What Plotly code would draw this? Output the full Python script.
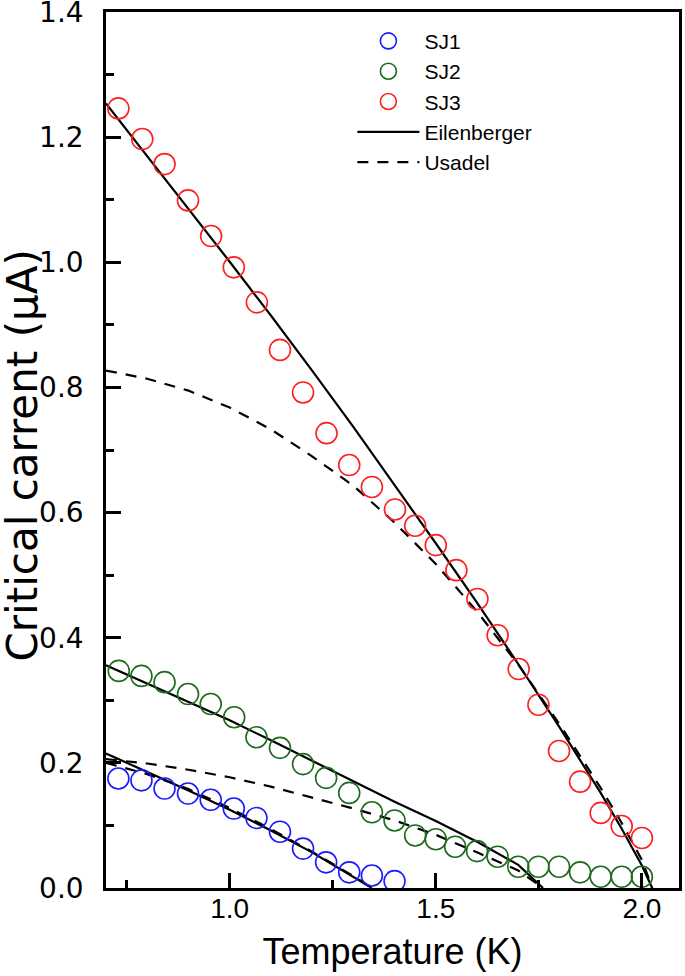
import plotly.graph_objects as go

# measured points (temperature in K, critical current in uA)
sj1_t = [0.73, 0.786, 0.842, 0.899, 0.954, 1.01, 1.065, 1.122, 1.178, 1.234, 1.29, 1.345, 1.40]
sj1_ic = [0.175, 0.172, 0.159, 0.151, 0.141, 0.127, 0.112, 0.090, 0.063, 0.041, 0.025, 0.020, 0.011]

sj2_t = [0.731, 0.786, 0.842, 0.899, 0.954, 1.011, 1.065, 1.122, 1.178, 1.234, 1.29, 1.345,
         1.40, 1.45, 1.50, 1.547, 1.60, 1.65, 1.70, 1.749, 1.799, 1.85, 1.90, 1.951, 2.0]
sj2_ic = [0.347, 0.339, 0.329, 0.310, 0.294, 0.273, 0.241, 0.224, 0.198, 0.176, 0.152, 0.121,
          0.108, 0.084, 0.078, 0.066, 0.059, 0.050, 0.034, 0.034, 0.034, 0.025, 0.018, 0.018, 0.018]

sj3_t = [0.73, 0.788, 0.842, 0.899, 0.955, 1.01, 1.066, 1.122, 1.178, 1.235, 1.29, 1.345, 1.401,
         1.45, 1.50, 1.55, 1.601, 1.65, 1.701, 1.749, 1.799, 1.85, 1.90, 1.951, 2.0]
sj3_ic = [1.246, 1.197, 1.157, 1.099, 1.042, 0.992, 0.936, 0.860, 0.792, 0.727, 0.676, 0.641, 0.605,
          0.579, 0.548, 0.508, 0.462, 0.404, 0.350, 0.293, 0.219, 0.170, 0.120, 0.099, 0.080]

# theory curves
eil1_t = [0.70, 0.80, 0.90, 1.00, 1.10, 1.20, 1.30, 1.345]
eil1_ic = [0.215, 0.186, 0.156, 0.125, 0.092, 0.057, 0.018, 0.0]
usa1_t = [0.70, 0.80, 0.90, 1.00, 1.10, 1.20, 1.30, 1.345]
usa1_ic = [0.200, 0.182, 0.158, 0.128, 0.094, 0.058, 0.019, 0.0]

eil2_t = [0.70, 0.80, 0.90, 1.00, 1.10, 1.20, 1.30, 1.40, 1.50, 1.60, 1.70, 1.76]
eil2_ic = [0.356, 0.327, 0.298, 0.268, 0.236, 0.203, 0.170, 0.138, 0.107, 0.074, 0.037, 0.0]
usa2_t = [0.70, 0.80, 0.90, 1.00, 1.10, 1.20, 1.30, 1.40, 1.50, 1.60, 1.70, 1.76]
usa2_ic = [0.206, 0.199, 0.189, 0.177, 0.162, 0.145, 0.127, 0.108, 0.085, 0.057, 0.028, 0.0]

eil3_t = [0.70, 0.80, 0.90, 1.00, 1.10, 1.20, 1.30, 1.40, 1.50, 1.60, 1.70, 1.80, 1.90, 1.95, 2.00, 2.025]
eil3_ic = [1.254, 1.170, 1.086, 1.001, 0.915, 0.827, 0.737, 0.645, 0.551, 0.456, 0.358, 0.257, 0.152, 0.096, 0.036, 0.0]
usa3_t = [0.70, 0.80, 0.90, 1.00, 1.10, 1.20, 1.30, 1.40, 1.50, 1.60, 1.70, 1.80, 1.90, 1.95, 2.00, 2.025]
usa3_ic = [0.827, 0.814, 0.795, 0.768, 0.733, 0.690, 0.643, 0.584, 0.518, 0.442, 0.357, 0.262, 0.160, 0.105, 0.045, 0.0]

FONT = "Liberation Sans, Arial, sans-serif"
WIDE = "DejaVu Sans, sans-serif"
DASH = "11px,9px"

fig = go.Figure()

# theory lines first so circles sit on top
for t, ic in [(eil1_t, eil1_ic), (eil2_t, eil2_ic), (eil3_t, eil3_ic)]:
    fig.add_trace(go.Scatter(x=t, y=ic, mode="lines", name="Eilenberger",
                             line=dict(color="black", width=2.2),
                             legendgroup="eil", showlegend=False))
for t, ic in [(usa1_t, usa1_ic), (usa2_t, usa2_ic), (usa3_t, usa3_ic)]:
    fig.add_trace(go.Scatter(x=t, y=ic, mode="lines", name="Usadel",
                             line=dict(color="black", width=2.2, dash=DASH),
                             legendgroup="usa", showlegend=False))

samples = [
    ("SJ1", sj1_t, sj1_ic, "#1a1aff"),
    ("SJ2", sj2_t, sj2_ic, "#1e6a1e"),
    ("SJ3", sj3_t, sj3_ic, "#ff1f1f"),
]
for rank, (name, t, ic, col) in enumerate(samples, start=1):
    fig.add_trace(go.Scatter(
        x=t, y=ic, mode="markers", name=name, legendrank=rank,
        marker=dict(symbol="circle-open", size=21, color=col, line=dict(width=1.6, color=col)),
    ))

# legend-only entries for the theory curves
fig.add_trace(go.Scatter(x=[None], y=[None], mode="lines", name="Eilenberger", legendrank=4,
                         line=dict(color="black", width=2.2)))
fig.add_trace(go.Scatter(x=[None], y=[None], mode="lines", name="Usadel", legendrank=5,
                         line=dict(color="black", width=2.2, dash=DASH)))

axis_common = dict(
    showline=True, linecolor="black", linewidth=2.5, mirror=True,
    showgrid=False, zeroline=False, automargin=False,
    ticks="inside", ticklen=15, tickwidth=2.5, tickcolor="black",
    ticklabeloverflow="allow",
)

fig.update_xaxes(
    **axis_common,
    range=[0.70, 2.09], tick0=0, dtick=0.5, tickformat=".1f",
    tickfont=dict(family=FONT, size=28, color="black"),
    ticklabelstandoff=-6,
    minor=dict(ticks="inside", ticklen=8, tickwidth=2.5, tickcolor="black", dtick=0.25, tick0=0),
    title=dict(text="Temperature (K)", font=dict(family=FONT, size=36, color="black"), standoff=16),
)
fig.update_yaxes(
    **axis_common,
    range=[0, 1.4001], tick0=0, dtick=0.2, tickformat=".1f",
    tickfont=dict(family=WIDE, size=28, color="black"),
    ticklabelstandoff=14,
    minor=dict(ticks="inside", ticklen=8, tickwidth=2.5, tickcolor="black", dtick=0.1, tick0=0),
)

# y title as a rotated annotation so it sits left of the wide tick labels
fig.add_annotation(
    text="Critical carrent (μA)", textangle=-90, showarrow=False,
    xref="paper", yref="paper", x=-0.146, y=0.494, xanchor="center", yanchor="middle",
    font=dict(family=WIDE, size=42, color="black"),
)

fig.update_layout(
    width=685, height=976,
    margin=dict(l=106, r=6, t=12, b=88),
    plot_bgcolor="white", paper_bgcolor="white",
    legend=dict(
        x=0.43, y=0.99, xanchor="left", yanchor="top",
        font=dict(family=FONT, size=21, color="black"),
        itemwidth=62, bgcolor="rgba(0,0,0,0)", tracegroupgap=0,
    ),
)

# drop the default page margin so the figure fills the window exactly
fig.write_html("out.html", config={"displayModeBar": False},
               post_script="document.body.style.margin = '0';")
